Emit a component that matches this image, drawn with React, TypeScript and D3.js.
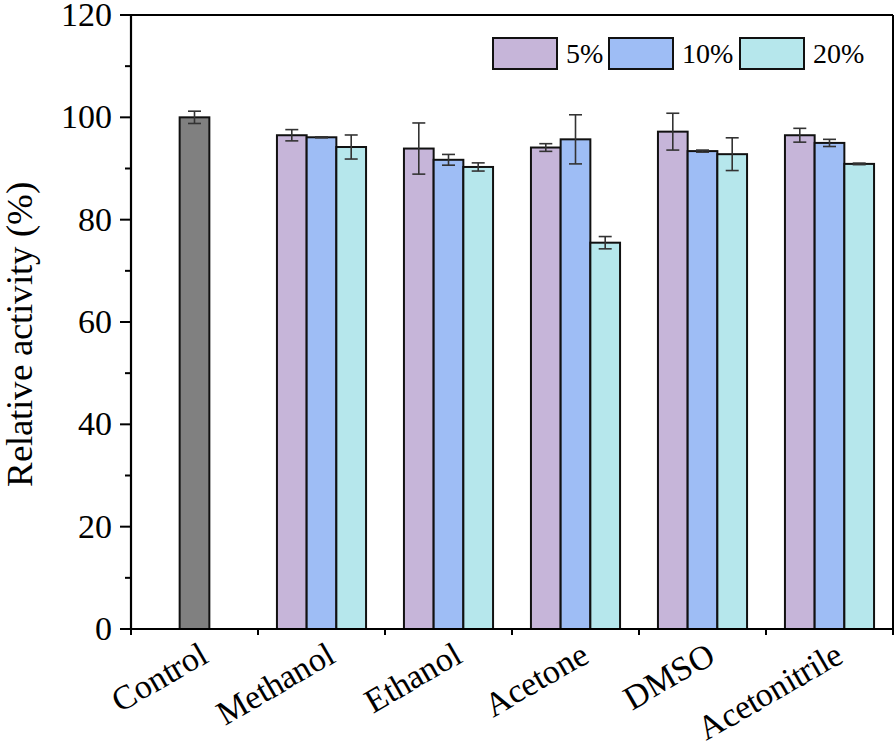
import React from 'react';
import * as d3 from 'd3';

const categories = ['Control', 'Methanol', 'Ethanol', 'Acetone', 'DMSO', 'Acetonitrile'];
const seriesNames = ['5%', '10%', '20%'];
const seriesColors = ['#C6B5D9', '#9EBDF5', '#B6E7EC'];
const controlValue = 100;
const controlErr = 1.2;
const solvents = ['Methanol', 'Ethanol', 'Acetone', 'DMSO', 'Acetonitrile'];
const values5 = [96.5, 93.9, 94.1, 97.2, 96.5];
const values10 = [96.1, 91.7, 95.7, 93.4, 95.0];
const values20 = [94.2, 90.3, 75.5, 92.8, 90.9];
const errors5 = [1.1, 5.0, 0.75, 3.6, 1.35];
const errors10 = [0.1, 1.05, 4.8, 0.2, 0.7];
const errors20 = [2.35, 0.8, 1.2, 3.2, 0.15];
const yTicks = [0, 20, 40, 60, 80, 100, 120];
const yMinorTicks = [10, 30, 50, 70, 90, 110];

const W = 896;
const H = 750;
const M = { left: 131, right: 893, top: 15, bottom: 629 };
const FONT = 'ChartSerif, "Liberation Serif", "Times New Roman", monospace';
const fontCss = `@font-face { font-family: 'ChartSerif'; src: local('Liberation Serif'), local('LiberationSerif'), local('LiberationSerif-Regular'), local('Times New Roman'); }`;

export default function App() {
  const x = d3.scaleBand<string>().domain(categories).range([M.left, M.right]).padding(0);
  const y = d3.scaleLinear().domain([0, 120]).range([M.bottom, M.top]);
  const barW = 29.7;
  const sub = d3.scaleBand<string>().domain(seriesNames).range([-1.5 * barW, 1.5 * barW]).padding(0);

  const seriesVals = [values5, values10, values20];
  const seriesErrs = [errors5, errors10, errors20];

  const bars: { x: number; v: number; e: number; fill: string; key: string }[] = [];
  bars.push({
    x: (x('Control') as number) + x.bandwidth() / 2 - barW / 2,
    v: controlValue,
    e: controlErr,
    fill: '#808080',
    key: 'control',
  });
  solvents.forEach((s, i) => {
    const cx = (x(s) as number) + x.bandwidth() / 2;
    seriesNames.forEach((sn, j) => {
      bars.push({
        x: cx + (sub(sn) as number),
        v: seriesVals[j][i],
        e: seriesErrs[j][i],
        fill: seriesColors[j],
        key: s + sn,
      });
    });
  });

  const cap = 6.5;
  const legendX = [493, 609, 740];

  return (
    <div style={{ position: 'absolute', left: 0, top: 0, width: W, height: H, fontFamily: FONT }}>
      <style>{fontCss}</style>
      <svg width={W} height={H} style={{ display: 'block', background: '#fff' }} fontFamily={FONT}>
        <rect x={0} y={0} width={W} height={H} fill="#fff" />
        {bars.map((b) => (
          <g key={b.key}>
            <rect x={b.x} y={y(b.v)} width={barW} height={y(0) - y(b.v)} fill={b.fill} stroke="#111" strokeWidth={2} />
            <line x1={b.x + barW / 2} x2={b.x + barW / 2} y1={y(b.v + b.e)} y2={y(b.v - b.e)} stroke="#333" strokeWidth={1.6} />
            <line x1={b.x + barW / 2 - cap} x2={b.x + barW / 2 + cap} y1={y(b.v + b.e)} y2={y(b.v + b.e)} stroke="#333" strokeWidth={1.6} />
            <line x1={b.x + barW / 2 - cap} x2={b.x + barW / 2 + cap} y1={y(b.v - b.e)} y2={y(b.v - b.e)} stroke="#333" strokeWidth={1.6} />
          </g>
        ))}
        {/* frame */}
        <line x1={M.left} x2={M.right} y1={M.top} y2={M.top} stroke="#000" strokeWidth={2} />
        <line x1={M.right} x2={M.right} y1={M.top} y2={M.bottom} stroke="#000" strokeWidth={2} />
        <line x1={M.left} x2={M.right + 1} y1={M.bottom} y2={M.bottom} stroke="#000" strokeWidth={2.2} />
        <line x1={M.left} x2={M.left} y1={M.top - 1} y2={M.bottom + 1} stroke="#000" strokeWidth={2.2} />
        {/* y ticks */}
        {yTicks.map((t) => (
          <g key={'yt' + t}>
            <line x1={M.left - 11} x2={M.left} y1={y(t)} y2={y(t)} stroke="#000" strokeWidth={2} />
            <text x={M.left - 19} y={y(t) + 11} textAnchor="end" fontSize={34} fill="#000" fontFamily={FONT}>
              {t}
            </text>
          </g>
        ))}
        {yMinorTicks.map((t) => (
          <line key={'ym' + t} x1={M.left - 6} x2={M.left} y1={y(t)} y2={y(t)} stroke="#000" strokeWidth={2} />
        ))}
        {/* x ticks */}
        {categories.map((c) => (
          <line key={'xt' + c} x1={x(c) as number} x2={x(c) as number} y1={M.bottom} y2={M.bottom + 6} stroke="#000" strokeWidth={2} />
        ))}
        <line x1={M.right} x2={M.right} y1={M.bottom} y2={M.bottom + 6} stroke="#000" strokeWidth={2} />
        {/* x labels */}
        {categories.map((c) => {
          const px = (x(c) as number) + x.bandwidth() / 2 + 15;
          const py = 661;
          return (
            <text key={'xl' + c} x={px} y={py} textAnchor="end" fontSize={34} fill="#000" fontFamily={FONT} transform={`rotate(-30, ${px}, ${py})`}>
              {c}
            </text>
          );
        })}
        {/* y label */}
        <text x={0} y={0} transform={`translate(32, ${(178 + 490) / 2}) rotate(-90)`} textAnchor="middle" fontSize={37} fill="#000" fontFamily={FONT}>
          Relative activity (%)
        </text>
        {/* legend */}
        {seriesNames.map((s, i) => (
          <g key={'lg' + s}>
            <rect x={legendX[i]} y={38} width={64} height={31} fill={seriesColors[i]} stroke="#111" strokeWidth={2} />
            <text x={legendX[i] + 73} y={63} fontSize={28} fill="#000" fontFamily={FONT}>
              {s}
            </text>
          </g>
        ))}
      </svg>
    </div>
  );
}
